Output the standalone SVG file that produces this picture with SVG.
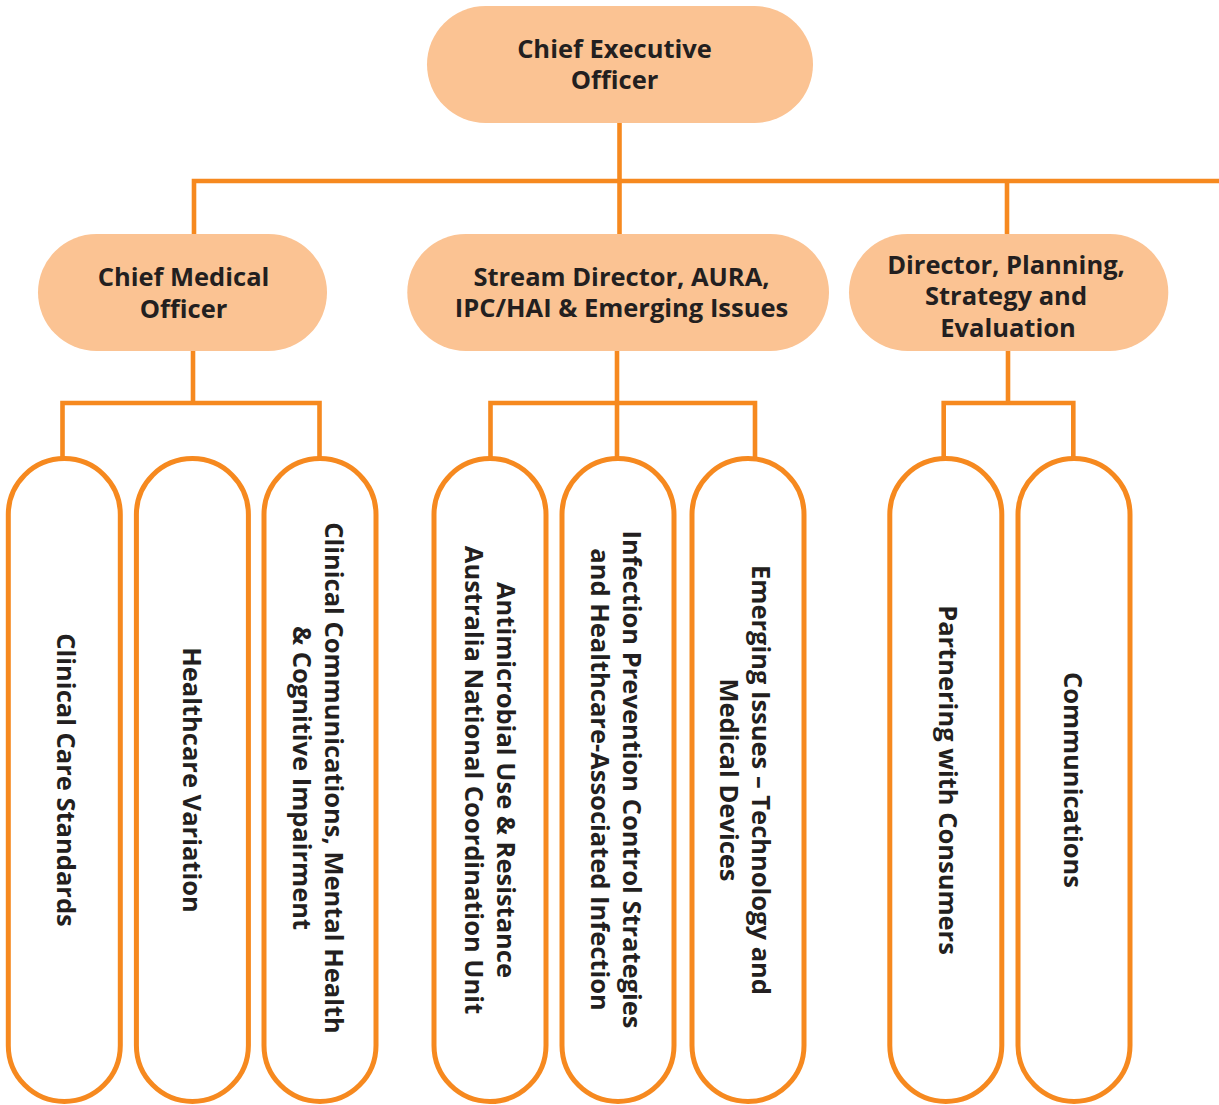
<svg xmlns="http://www.w3.org/2000/svg" width="1219" height="1105" viewBox="0 0 1219 1105">
  <style>
    .lead { fill: #fbc393; }
    .unit { fill: #ffffff; stroke: #f6891f; stroke-width: 5; }
    .conn { fill: none; stroke: #f6891f; stroke-width: 4.6; stroke-linejoin: miter; stroke-linecap: butt; }
    text { font-family: "Open Sans", "Noto Sans", "DejaVu Sans", sans-serif; font-weight: 700; font-size: 25.5px; fill: #231f20; text-anchor: middle; }
  </style>
  <rect width="1219" height="1105" fill="#ffffff"/>
  <g id="connectors">
    <path class="conn" d="M619.5 120 V234"/>
    <path class="conn" d="M194 234 V181 H1219"/>
    <path class="conn" d="M1007 181 V234"/>
    <path class="conn" d="M193 351 V403"/>
    <path class="conn" d="M62.5 460 V403 H319.5 V460"/>
    <path class="conn" d="M617 351 V460"/>
    <path class="conn" d="M490.5 460 V403 H755 V460"/>
    <path class="conn" d="M1008 351 V403"/>
    <path class="conn" d="M943.7 460 V403 H1073.3 V460"/>
  </g>
  <g id="ceo">
    <rect class="lead" x="427" y="6" width="386" height="117" rx="58.5"/>
    <text x="614.5" y="58.3">Chief Executive<tspan x="614.5" y="89.3">Officer</tspan></text>
  </g>
  <g id="cmo">
    <rect class="lead" x="38" y="234" width="289" height="117" rx="58.5"/>
    <text x="183.5" y="285.7">Chief Medical<tspan x="183.5" y="317.7">Officer</tspan></text>
  </g>
  <g id="stream-director">
    <rect class="lead" x="407.3" y="234" width="421.7" height="117" rx="58.5"/>
    <text x="621.5" y="285.7">Stream Director, AURA,<tspan x="621.5" y="317.3">IPC/HAI &amp; Emerging Issues</tspan></text>
  </g>
  <g id="director-planning">
    <rect class="lead" x="849" y="234" width="319.3" height="117" rx="58.5"/>
    <text x="1006" y="274.3">Director, Planning,<tspan x="1006" y="305">Strategy and</tspan><tspan x="1008" y="336.7">Evaluation</tspan></text>
  </g>
  <g id="clinical-care-standards">
    <rect class="unit" x="8.3" y="458.5" width="112" height="643" rx="56"/>
    <text transform="translate(57 780) rotate(90)">Clinical Care Standards</text>
  </g>
  <g id="healthcare-variation">
    <rect class="unit" x="136.4" y="458.5" width="112" height="643" rx="56"/>
    <text transform="translate(183 780) rotate(90)">Healthcare Variation</text>
  </g>
  <g id="clinical-communications">
    <rect class="unit" x="264" y="458.5" width="112" height="643" rx="56"/>
    <text transform="translate(325 778) rotate(90)">Clinical Communications, Mental Health<tspan x="0" y="32">&amp; Cognitive Impairment</tspan></text>
  </g>
  <g id="amr">
    <rect class="unit" x="434" y="458.5" width="112" height="643" rx="56"/>
    <text transform="translate(497.3 780) rotate(90)">Antimicrobial Use &amp; Resistance<tspan x="0" y="32">Australia National Coordination Unit</tspan></text>
  </g>
  <g id="ipc">
    <rect class="unit" x="562" y="458.5" width="112" height="643" rx="56"/>
    <text transform="translate(623.3 779.5) rotate(90)">Infection Prevention Control Strategies<tspan x="0" y="32">and Healthcare-Associated Infection</tspan></text>
  </g>
  <g id="emerging-issues">
    <rect class="unit" x="692" y="458.5" width="112" height="643" rx="56"/>
    <text transform="translate(751.7 780) rotate(90)">Emerging Issues – Technology and<tspan x="0" y="32">Medical Devices</tspan></text>
  </g>
  <g id="partnering-consumers">
    <rect class="unit" x="889.8" y="458.5" width="112" height="643" rx="56"/>
    <text transform="translate(939.3 780) rotate(90)">Partnering with Consumers</text>
  </g>
  <g id="communications">
    <rect class="unit" x="1018" y="458.5" width="112" height="643" rx="56"/>
    <text transform="translate(1064.3 780) rotate(90)">Communications</text>
  </g>
</svg>
